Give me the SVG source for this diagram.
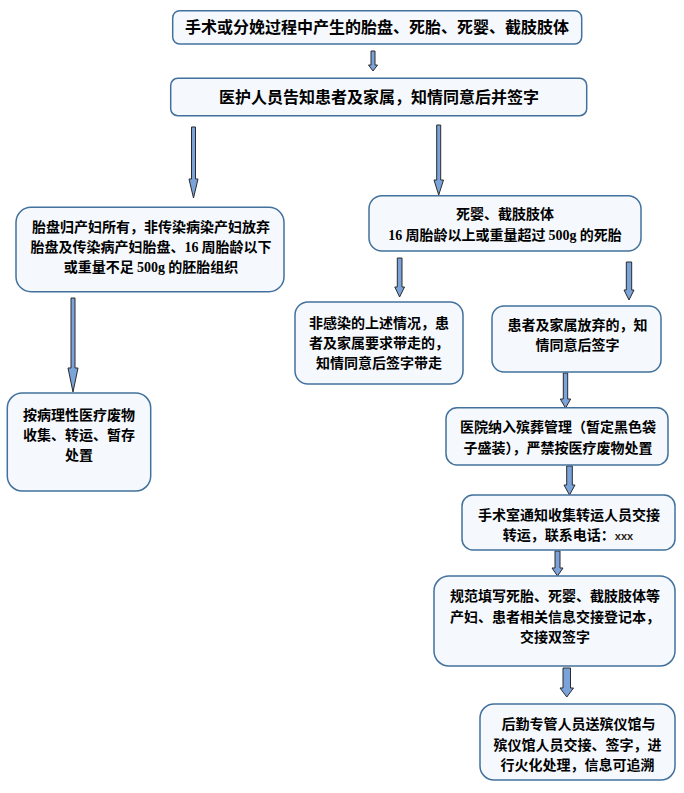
<svg xmlns="http://www.w3.org/2000/svg" width="684" height="793" viewBox="0 0 684 793">
<style>
.box{fill:#f5f9fd;stroke:#41719c;stroke-width:1.5}
.t{font-family:"Noto Sans CJK SC","Noto Sans CJK TC",sans-serif;font-size:14px;font-weight:bold;fill:#000;text-anchor:middle}
.t16{font-size:16px}
.n{font-family:"Liberation Serif",serif;font-weight:bold}
.x{font-family:"Liberation Sans",sans-serif;font-size:11px;font-weight:bold;fill:#2a2010}
.arr{fill:#7aa3d9;stroke:#2b2b2b;stroke-width:1;stroke-linejoin:miter}
</style>
<rect width="684" height="793" fill="#fff"/>
<g id="connectors">
<path class="arr" d="M371 51H375V65H377.5L373 71L368.5 65H371Z"/>
<path class="arr" d="M191.5 127H195.5V179H198L193.5 198L189 179H191.5Z"/>
<path class="arr" d="M436.7 125H440.7V180H443.5L438.7 195L434 180H436.7Z"/>
<path class="arr" d="M71 298H75V368H78L73 392L68 368H71Z"/>
<path class="arr" d="M397.3 258H402V287H404.5L399.6 297L394.8 287H397.3Z"/>
<path class="arr" d="M626.3 262H631.7V290H634L629 300L624 290H626.3Z"/>
<path class="arr" d="M563.3 373H567.7V399H570.7L565.5 408L560.3 399H563.3Z"/>
<path class="arr" d="M566.7 466H572.3V485H575L569.5 495L564 485H566.7Z"/>
<path class="arr" d="M555 551H560V568H563L557.5 576L552 568H555Z"/>
<path class="arr" d="M563 668H570.5V688H573.5L566.8 697L560 688H563Z"/>
</g>
<g id="n1"><rect class="box" x="172.7" y="10.7" width="409" height="33.3" rx="7"/><text class="t t16" x="377" y="33">手术或分娩过程中产生的胎盘、死胎、死婴、截肢肢体</text></g>
<g id="n2"><rect class="box" x="170.7" y="78.3" width="416" height="37.4" rx="7"/><text class="t t16" x="379" y="103">医护人员告知患者及家属，知情同意后并签字</text></g>
<g id="n3"><rect class="box" x="16" y="207.3" width="268" height="84.4" rx="15"/>
<text class="t" x="151" y="232.3">胎盘归产妇所有，非传染病染产妇放弃</text>
<text class="t" x="151" y="252.3">胎盘及传染病产妇胎盘、<tspan class="n">16</tspan> 周胎龄以下</text>
<text class="t" x="151" y="272.3">或重量不足 <tspan class="n">500g</tspan> 的胚胎组织</text></g>
<g id="n4"><rect class="box" x="369" y="195.7" width="272" height="55.3" rx="13"/>
<text class="t" x="505" y="218.5">死婴、截肢肢体</text>
<text class="t" x="505" y="240.3"><tspan class="n">16</tspan> 周胎龄以上或重量超过 <tspan class="n">500g</tspan> 的死胎</text></g>
<g id="n5"><rect class="box" x="7.3" y="393" width="143.4" height="98" rx="15"/>
<text class="t" x="79" y="420.3">按病理性医疗废物</text>
<text class="t" x="79" y="440.3">收集、转运、暂存</text>
<text class="t" x="79" y="460.3">处置</text></g>
<g id="n6"><rect class="box" x="295" y="302" width="168" height="82" rx="13"/>
<text class="t" x="379" y="328.3">非感染的上述情况，患</text>
<text class="t" x="379" y="348.3">者及家属要求带走的，</text>
<text class="t" x="379" y="368.3">知情同意后签字带走</text></g>
<g id="n7"><rect class="box" x="492" y="306" width="169" height="66" rx="12"/>
<text class="t" x="577.5" y="330.3">患者及家属放弃的，知</text>
<text class="t" x="577.5" y="350.3">情同意后签字</text></g>
<g id="n8"><rect class="box" x="446" y="407.7" width="222" height="57.3" rx="11"/>
<text class="t" x="558" y="432.3">医院纳入殡葬管理（暂定黑色袋</text>
<text class="t" x="558" y="453">子盛装），严禁按医疗废物处置</text></g>
<g id="n9"><rect class="box" x="462" y="495" width="213" height="55" rx="11"/>
<text class="t" x="569" y="520.3">手术室通知收集转运人员交接</text>
<text class="t" x="568" y="540.3">转运，联系电话：<tspan class="x">xxx</tspan></text></g>
<g id="n10"><rect class="box" x="434" y="576" width="241" height="90" rx="15"/>
<text class="t" x="555" y="601">规范填写死胎、死婴、截肢肢体等</text>
<text class="t" x="555" y="622">产妇、患者相关信息交接登记本，</text>
<text class="t" x="555" y="642.3">交接双签字</text></g>
<g id="n11"><rect class="box" x="480" y="704" width="195" height="76" rx="14"/>
<text class="t" x="578.5" y="729">后勤专管人员送殡仪馆与</text>
<text class="t" x="577.5" y="750">殡仪馆人员交接、签字，进</text>
<text class="t" x="577.5" y="769.5">行火化处理，信息可追溯</text></g>
</svg>
